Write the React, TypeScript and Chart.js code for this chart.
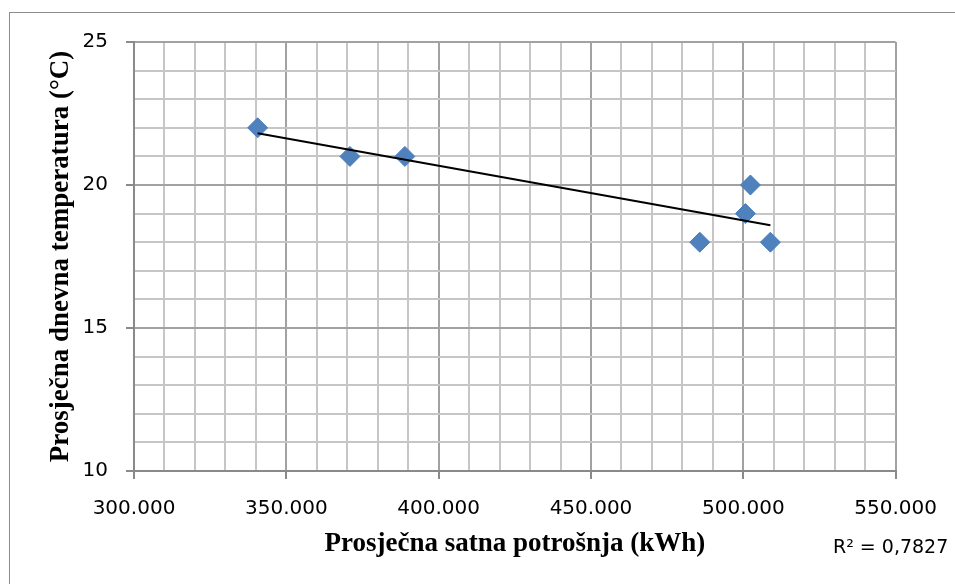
import React, { useEffect, useRef } from "react";
import { Chart, registerables } from "chart.js";

Chart.register(...registerables);

// Data
const consumption = [340580, 370870, 388910, 485700, 500690, 502330, 508890];
const temperature = [22, 21, 21, 18, 19, 20, 18];
const trendX = [340580, 508890];
const trendY = [21.81, 18.59];
const rSquaredLabel = "R² = 0,7827";
const xTitle = "Prosječna satna potrošnja (kWh)";
const yTitle = "Prosječna dnevna temperatura (°C)";
const xMin = 300000;
const xMax = 550000;
const yMin = 10;
const yMax = 25;

const MAJOR = "#a2a2a2";
const MINOR = "#c6c6c6";
const AXIS = "#8a8a8a";

function fmtThousands(v: number): string {
  const s = Math.round(v).toString();
  return s.replace(/\B(?=(\d{3})+(?!\d))/g, ".");
}

const framePlugin = {
  id: "frame",
  beforeDraw(chart: any) {
    const ctx = chart.ctx;
    ctx.save();
    ctx.fillStyle = "#ffffff";
    ctx.fillRect(0, 0, chart.width, chart.height);
    ctx.strokeStyle = "#8c8c8c";
    ctx.lineWidth = 1;
    ctx.strokeRect(9.5, 12.5, chart.width + 10, chart.height + 10);
    ctx.restore();
  },
  afterDraw(chart: any) {
    const ctx = chart.ctx;
    ctx.save();
    ctx.fillStyle = "#000000";
    ctx.font = "19px 'DejaVu Sans'";
    ctx.textAlign = "left";
    ctx.textBaseline = "alphabetic";
    ctx.fillText(rSquaredLabel, 833, 553);
    ctx.restore();
  },
};

export default function App() {
  const ref = useRef<HTMLCanvasElement | null>(null);

  useEffect(() => {
    if (!ref.current) return;
    const points = consumption.map((x, i) => ({ x, y: temperature[i] }));
    const trend = trendX.map((x, i) => ({ x, y: trendY[i] }));
    const chart = new Chart(ref.current, {
      type: "scatter",
      data: {
        datasets: [
          {
            label: "Trend",
            data: trend,
            showLine: true,
            borderColor: "#000000",
            borderWidth: 2,
            pointRadius: 0,
            fill: false,
            order: 0,
          } as any,
          {
            label: "Podaci",
            data: points,
            pointStyle: "rectRot",
            pointRadius: 10,
            pointBackgroundColor: "#4f81bd",
            pointBorderColor: "#4a7ebb",
            pointBorderWidth: 1,
            order: 1,
          } as any,
        ],
      },
      plugins: [framePlugin],
      options: {
        responsive: false,
        animation: false,
        layout: { padding: { left: 0, top: 42, right: 59, bottom: 0 } },
        plugins: {
          legend: { display: false },
          tooltip: { enabled: false },
        },
        scales: {
          x: {
            type: "linear",
            min: xMin,
            max: xMax,
            afterFit(scale: any) {
              scale.height = 113;
            },
            ticks: {
              stepSize: 10000,
              autoSkip: false,
              maxRotation: 0,
              padding: 18,
              color: "#000000",
              font: { family: "'DejaVu Sans'", size: 20 },
              callback: (v: any) => (Number(v) % 50000 === 0 ? fmtThousands(Number(v)) : ""),
            },
            grid: {
              color: (c: any) => (c.tick && c.tick.value % 50000 === 0 ? MAJOR : MINOR),
              lineWidth: 2,
              tickLength: 8,
              tickColor: (c: any) => (c.tick && c.tick.value % 50000 === 0 ? AXIS : "rgba(0,0,0,0)"),
              tickWidth: 2,
            },
            border: { color: AXIS, width: 2 },
            title: {
              display: true,
              text: xTitle,
              color: "#000000",
              font: { family: "'Liberation Serif'", size: 27, weight: "bold" },
              padding: { top: 0, bottom: 24 },
            },
          },
          y: {
            type: "linear",
            min: yMin,
            max: yMax,
            afterFit(scale: any) {
              scale.width = 134;
            },
            ticks: {
              stepSize: 1,
              autoSkip: false,
              padding: 18,
              color: "#000000",
              font: { family: "'DejaVu Sans'", size: 20 },
              callback: (v: any) => (Number(v) % 5 === 0 ? String(v) : ""),
            },
            grid: {
              color: (c: any) => (c.tick && c.tick.value % 5 === 0 ? MAJOR : MINOR),
              lineWidth: 2,
              tickLength: 8,
              tickColor: (c: any) => (c.tick && c.tick.value % 5 === 0 ? AXIS : "rgba(0,0,0,0)"),
              tickWidth: 2,
            },
            border: { color: AXIS, width: 2 },
            title: {
              display: true,
              text: yTitle,
              color: "#000000",
              font: { family: "'Liberation Serif'", size: 27, weight: "bold" },
              padding: { top: 45, bottom: 0 },
            },
          },
        },
      } as any,
    });
    return () => chart.destroy();
  }, []);

  return (
    <div style={{ position: "fixed", left: 0, top: 0, width: 955, height: 584, background: "#fff" }}>
      <canvas ref={ref} width={955} height={584} style={{ display: "block", width: 955, height: 584 }} />
    </div>
  );
}
